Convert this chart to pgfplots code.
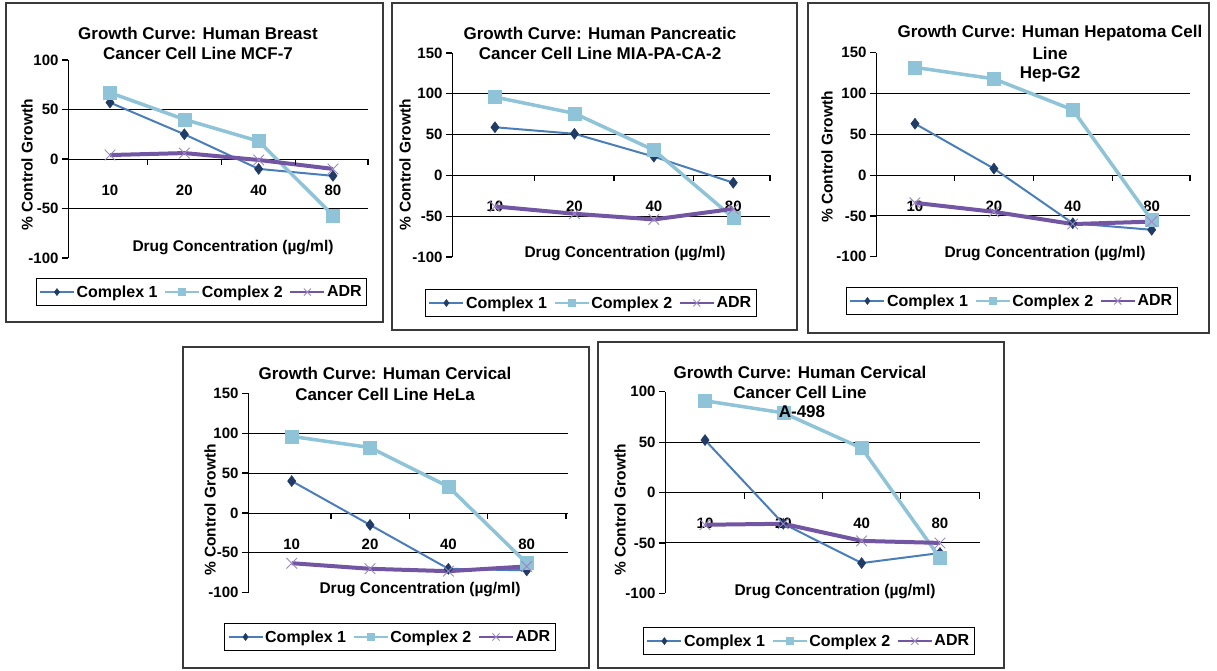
\documentclass[border=0pt]{standalone}
\usepackage{pgfplots}
\pgfplotsset{compat=1.18}
\usepackage{fontspec}
\setmainfont{Liberation Sans}

\definecolor{cOneLine}{HTML}{4A7EBB}
\definecolor{cOneMark}{HTML}{1F3B66}
\definecolor{cTwo}{HTML}{8EC3D8}
\definecolor{cADR}{HTML}{7356A3}
\definecolor{cADRmark}{HTML}{9C88C2}
\definecolor{frame}{HTML}{3A3A3A}

\newcommand\titlefont{\bfseries\fontsize{17}{19}\selectfont}
\newcommand\labfont{\bfseries\fontsize{15.5}{17}\selectfont}
\newcommand\tickfont{\bfseries\fontsize{15}{16}\selectfont}
\newcommand\legfont{\bfseries\fontsize{16}{18}\selectfont}

% short downward marks on the category axis between the concentrations
\newcommand\boundaryticks[1]{%
  \draw[black, line width=1.3pt] (axis cs:0.5,0) -- ++(0pt,-6pt);
  \draw[black, line width=1.3pt] (axis cs:1.5,0) -- ++(0pt,-6pt);
  \draw[black, line width=1.3pt] (axis cs:2.5,0) -- ++(0pt,-6pt);
  \draw[black, line width=1.3pt] (axis cs:#1,0) -- ++(0pt,-6pt);}

\pgfplotsset{
  growth/.style={
    scale only axis,
    axis x line=middle, axis y line=left,
    axis line style={-, black, line width=0.9pt},
    xtick={0,1,2,3}, xticklabels={10,20,40,80},
    xtick style={draw=none},
    xticklabel style={anchor=center, yshift=-25pt, font=\tickfont},
    yticklabel style={font=\tickfont},
    ytick style={black, line width=1.2pt},
    tick align=outside, major tick length=6pt,
    hide obscured x ticks=false, hide obscured y ticks=false,
    extra y tick style={grid=major, major grid style={black, line width=0.9pt}},
    extra y tick labels={},
    clip=false,
    legend columns=3,
    legend cell align=left,
    legend style={draw=black, line width=1pt, anchor=center, font=\legfont,
      inner ysep=5pt,
      /tikz/every even column/.append style={column sep=5pt}},
    /pgf/number format/assume math mode=true,
  },
  c1/.style={cOneLine, line width=2pt, mark=diamond*, mark size=5.5pt,
    mark options={fill=cOneMark, draw=cOneMark, line width=0.5pt},
    legend image code/.code={\draw[line width=1.3pt, mark size=3.5pt, mark repeat=2, mark phase=2]
      plot coordinates {(0pt,0pt) (17pt,0pt) (34pt,0pt)};}},
  c2/.style={cTwo, line width=3.5pt, mark=square*, mark size=6.5pt,
    mark options={fill=cTwo, draw=cTwo, line width=0.5pt},
    legend image code/.code={\draw[line width=1.3pt, mark size=3.5pt, mark repeat=2, mark phase=2]
      plot coordinates {(0pt,0pt) (17pt,0pt) (34pt,0pt)};}},
  adr/.style={cADR, line width=4pt, mark=x, mark size=7.5pt,
    mark options={draw=cADRmark, line width=0.9pt},
    legend image code/.code={\draw[line width=1.3pt, mark size=5pt, mark repeat=2, mark phase=2]
      plot coordinates {(0pt,0pt) (17pt,0pt) (34pt,0pt)};}},
}

\begin{document}
\begin{tikzpicture}
\useasboundingbox (0pt,0pt) rectangle (1217pt,-670pt);
\fill[white] (0pt,0pt) rectangle (1217pt,-670pt);

% panel frames
\draw[frame, line width=1.2pt] (6pt,-3pt) rectangle (383pt,-322pt);
\draw[frame, line width=1.2pt] (392pt,-3pt) rectangle (797pt,-330pt);
\draw[frame, line width=1.2pt] (808pt,-3pt) rectangle (1209pt,-333pt);
\draw[frame, line width=1.2pt] (183pt,-347pt) rectangle (589pt,-668pt);
\draw[frame, line width=1.2pt] (598pt,-342pt) rectangle (1004pt,-668pt);

% MCF-7
\begin{axis}[growth, at={(68pt,-258pt)}, anchor=south west,
  width=300pt, height=198pt, ymin=-100, ymax=100,
  xmin=-0.565, xmax=3.471,
  ytick={-100,-50,0,50,100}, extra y ticks={-50,50},
  legend style={at={(0.445,-0.172)}}]
\addplot[c1] coordinates {(0,57) (1,25) (2,-10) (3,-17)};
\addplot[c2] coordinates {(0,67) (1,40) (2,18) (3,-57)};
\addplot[adr] coordinates {(0,4) (1,6) (2,-1) (3,-10)};
\boundaryticks{3.471}
\legend{Complex 1, Complex 2, ADR}
\end{axis}
\node[font=\titlefont] at (198pt,-33pt) {Growth Curve: Human Breast};
\node[font=\titlefont] at (198pt,-53pt) {Cancer Cell Line MCF-7};
\node[font=\labfont, rotate=90] at (27pt,-165pt) {\% Control Growth};
\node[font=\labfont] at (233pt,-248pt) {Drug Concentration (µg/ml)};

% MIA-PA-CA-2
\begin{axis}[growth, at={(452pt,-257pt)}, anchor=south west,
  width=318pt, height=204pt, ymin=-100, ymax=150,
  xmin=-0.541, xmax=3.462,
  ytick={-100,-50,0,50,100,150}, extra y ticks={-50,50,100},
  legend style={at={(0.437,-0.2255)}}]
\addplot[c1] coordinates {(0,59) (1,51) (2,23) (3,-9)};
\addplot[c2] coordinates {(0,96) (1,76) (2,31) (3,-52)};
\addplot[adr] coordinates {(0,-38) (1,-47) (2,-54) (3,-41)};
\boundaryticks{3.462}
\legend{Complex 1, Complex 2, ADR}
\end{axis}
\node[font=\titlefont] at (600pt,-33pt) {Growth Curve: Human Pancreatic};
\node[font=\titlefont] at (600pt,-53pt) {Cancer Cell Line MIA-PA-CA-2};
\node[font=\labfont, rotate=90] at (405pt,-165pt) {\% Control Growth};
\node[font=\labfont] at (625pt,-254pt) {Drug Concentration (µg/ml)};

% Hep-G2
\begin{axis}[growth, at={(876pt,-256.7pt)}, anchor=south west,
  width=314pt, height=204pt, ymin=-100, ymax=150,
  xmin=-0.494, xmax=3.486,
  ytick={-100,-50,0,50,100,150}, extra y ticks={-50,50,100},
  legend style={at={(0.433,-0.217)}}]
\addplot[c1] coordinates {(0,63) (1,8) (2,-59) (3,-67)};
\addplot[c2] coordinates {(0,132) (1,118) (2,80) (3,-55)};
\addplot[adr] coordinates {(0,-34) (1,-45) (2,-60) (3,-57)};
\boundaryticks{3.486}
\legend{Complex 1, Complex 2, ADR}
\end{axis}
\node[font=\titlefont] at (1050pt,-33pt) {Growth Curve: Human Hepatoma Cell};
\node[font=\titlefont] at (1050pt,-53pt) {Line};
\node[font=\titlefont] at (1050pt,-74pt) {Hep-G2};
\node[font=\labfont, rotate=90] at (827pt,-157pt) {\% Control Growth};
\node[font=\labfont] at (1045pt,-254pt) {Drug Concentration (µg/ml)};

% HeLa
\begin{axis}[growth, at={(248pt,-592.7pt)}, anchor=south west,
  width=320pt, height=199.4pt, ymin=-100, ymax=150,
  xmin=-0.558, xmax=3.527,
  ytick={-100,-50,0,50,100,150}, extra y ticks={-50,50,100},
  legend style={at={(0.444,-0.222)}}]
\addplot[c1] coordinates {(0,40) (1,-15) (2,-70) (3,-72)};
\addplot[c2] coordinates {(0,96) (1,82) (2,33) (3,-63)};
\addplot[adr] coordinates {(0,-63) (1,-70) (2,-73) (3,-67)};
\boundaryticks{3.5}
\legend{Complex 1, Complex 2, ADR}
\end{axis}
\node[font=\titlefont] at (385pt,-373pt) {Growth Curve: Human Cervical};
\node[font=\titlefont] at (385pt,-394pt) {Cancer Cell Line HeLa};
\node[font=\labfont, rotate=90] at (210pt,-510pt) {\% Control Growth};
\node[font=\labfont] at (420pt,-590pt) {Drug Concentration (µg/ml)};

% A-498
\begin{axis}[growth, at={(665pt,-593.3pt)}, anchor=south west,
  width=315pt, height=201.6pt, ymin=-100, ymax=100,
  xmin=-0.511, xmax=3.511,
  ytick={-100,-50,0,50,100}, extra y ticks={-50,50},
  legend style={at={(0.457,-0.237)}}]
\addplot[c1] coordinates {(0,52) (1,-31) (2,-70) (3,-60)};
\addplot[c2] coordinates {(0,91) (1,79) (2,44) (3,-65)};
\addplot[adr] coordinates {(0,-32) (1,-31) (2,-48) (3,-50)};
\boundaryticks{3.5}
\legend{Complex 1, Complex 2, ADR}
\end{axis}
\node[font=\titlefont] at (800pt,-372pt) {Growth Curve: Human Cervical};
\node[font=\titlefont] at (800pt,-392pt) {Cancer Cell Line};
\node[font=\titlefont] at (802pt,-412pt) {A-498};
\node[font=\labfont, rotate=90] at (620pt,-510pt) {\% Control Growth};
\node[font=\labfont] at (835pt,-592pt) {Drug Concentration (µg/ml)};
\end{tikzpicture}
\end{document}
